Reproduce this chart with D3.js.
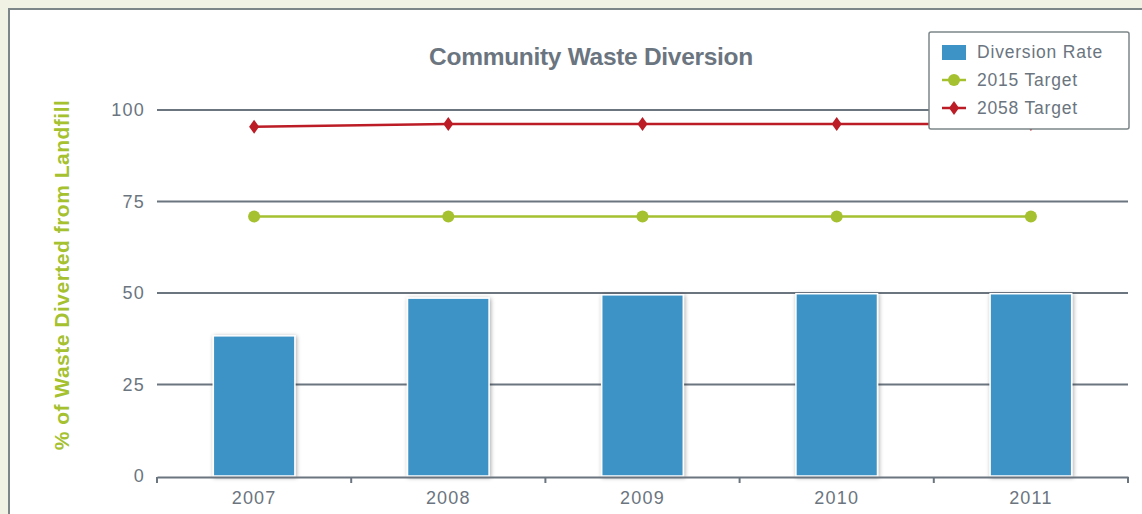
<!DOCTYPE html>
<html>
<head>
<meta charset="utf-8">
<script src="https://cdn.jsdelivr.net/npm/d3@7"></script>
<style>
  body { margin: 0; background: #f0f3e3; }
  svg { display: block; font-family: "Liberation Sans", Arial, sans-serif; }
</style>
</head>
<body>
<svg id="chart" width="1142" height="514"></svg>
<script>
// data
const years = ["2007", "2008", "2009", "2010", "2011"];
const diversionRate = [38.3, 48.6, 49.5, 49.8, 49.8];
const target2015 = [70.9, 70.9, 70.9, 70.9, 70.9];
const target2058 = [95.4, 96.2, 96.2, 96.2, 96.2];
const yTicks = [0, 25, 50, 75, 100];

const svg = d3.select("#chart");
const width = 1142, height = 514;

const grey = "#6b7580";
const blue = "#3d93c5";
const green = "#a5c130";
const red = "#bb1c25";

// white panel
svg.append("rect")
    .attr("x", 9).attr("y", 9)
    .attr("width", width).attr("height", height)
    .attr("fill", "#fff")
    .attr("stroke", "#7c8688")
    .attr("stroke-width", 2);

const margin = {left: 157, right: 14, top: 110, bottom: 38};
const x = d3.scaleBand()
    .domain(years)
    .range([margin.left, width - margin.right])
    .paddingInner(0.58)
    .paddingOuter(0.29);

const y = d3.scaleLinear()
    .domain([0, 100])
    .range([height - margin.bottom, margin.top]);

const defs = svg.append("defs");
const shadow = defs.append("filter").attr("id", "shadow")
    .attr("x", "-20%").attr("y", "-10%").attr("width", "140%").attr("height", "120%");
shadow.append("feDropShadow")
    .attr("dx", 1).attr("dy", 1).attr("stdDeviation", 2)
    .attr("flood-color", "#000").attr("flood-opacity", 0.35);

// grid lines
svg.append("g")
    .selectAll("line")
    .data(yTicks.filter(d => d > 0))
    .join("line")
    .attr("x1", margin.left).attr("x2", width - margin.right)
    .attr("y1", d => y(d)).attr("y2", d => y(d))
    .attr("stroke", grey).attr("stroke-width", 2);

// y labels
svg.append("g")
    .selectAll("text")
    .data(yTicks)
    .join("text")
    .attr("x", 145)
    .attr("y", d => y(d))
    .attr("dy", "0.35em")
    .attr("text-anchor", "end")
    .attr("fill", grey)
    .attr("font-size", 18)
    .attr("letter-spacing", 1.2)
    .text(d => d);

// bars
svg.append("g")
    .selectAll("rect")
    .data(diversionRate)
    .join("rect")
    .attr("x", (d, i) => x(years[i]))
    .attr("y", d => y(d))
    .attr("width", x.bandwidth())
    .attr("height", d => y(0) - y(d))
    .attr("fill", blue)
    .attr("stroke", "#fff")
    .attr("stroke-width", 1.5)
    .attr("filter", "url(#shadow)");

// x axis
const xAxis = svg.append("g")
    .attr("transform", `translate(0,${y(0) + 1})`)
    .call(d3.axisBottom(x).tickSize(0).tickPadding(14));
xAxis.select(".domain").attr("stroke", grey).attr("stroke-width", 2);
xAxis.selectAll("text").attr("fill", grey).attr("font-size", 18)
    .attr("letter-spacing", 1.2)
    .attr("font-family", "Liberation Sans, Arial, sans-serif");
// boundary ticks between categories
const step = x.step();
const bounds = d3.range(years.length + 1).map(i => margin.left + i * step);
xAxis.selectAll(".bound")
    .data(bounds)
    .join("line")
    .attr("class", "bound")
    .attr("x1", d => d).attr("x2", d => d)
    .attr("y1", 0).attr("y2", 6)
    .attr("stroke", grey).attr("stroke-width", 2);

// target lines
const cx = (d, i) => x(years[i]) + x.bandwidth() / 2;
const line = d3.line().x(cx).y(d => y(d));

svg.append("path")
    .datum(target2015)
    .attr("d", line)
    .attr("fill", "none")
    .attr("stroke", green).attr("stroke-width", 2.5);
svg.append("g")
    .selectAll("circle")
    .data(target2015)
    .join("circle")
    .attr("cx", cx).attr("cy", d => y(d))
    .attr("r", 6)
    .attr("fill", green);

const diamond = "M0,-7L5,0L0,7L-5,0Z";
svg.append("path")
    .datum(target2058)
    .attr("d", line)
    .attr("fill", "none")
    .attr("stroke", red).attr("stroke-width", 2.5);
svg.append("g")
    .selectAll("path")
    .data(target2058)
    .join("path")
    .attr("transform", (d, i) => `translate(${cx(d, i)},${y(d)})`)
    .attr("d", diamond)
    .attr("fill", red);

// title
svg.append("text")
    .attr("x", 591).attr("y", 65)
    .attr("text-anchor", "middle")
    .attr("fill", grey)
    .attr("font-size", 24.5)
    .attr("font-weight", "bold")
    .attr("letter-spacing", -0.3)
    .text("Community Waste Diversion");

// y axis title
svg.append("text")
    .attr("transform", "translate(69,275) rotate(-90)")
    .attr("text-anchor", "middle")
    .attr("fill", green)
    .attr("font-size", 21)
    .attr("font-weight", "bold")
    .attr("letter-spacing", 0.5)
    .text("% of Waste Diverted from Landfill");

// legend
const legend = svg.append("g").attr("transform", "translate(929,32)");
legend.append("rect")
    .attr("width", 200).attr("height", 97)
    .attr("rx", 2)
    .attr("fill", "#fff")
    .attr("stroke", "#7c8688").attr("stroke-width", 1.5);

const items = ["Diversion Rate", "2015 Target", "2058 Target"];
const li = legend.selectAll(".item")
    .data(items)
    .join("g")
    .attr("class", "item")
    .attr("transform", (d, i) => `translate(0,${20 + i * 28})`);

li.filter((d, i) => i === 0).append("rect")
    .attr("x", 13).attr("y", -7).attr("width", 24).attr("height", 15)
    .attr("fill", blue);
li.filter((d, i) => i === 1).each(function() {
  const g = d3.select(this);
  g.append("line").attr("x1", 13).attr("x2", 37).attr("stroke", green).attr("stroke-width", 2.5);
  g.append("circle").attr("cx", 25).attr("r", 6).attr("fill", green);
});
li.filter((d, i) => i === 2).each(function() {
  const g = d3.select(this);
  g.append("line").attr("x1", 13).attr("x2", 37).attr("stroke", red).attr("stroke-width", 2.5);
  g.append("path").attr("transform", "translate(25,0)").attr("d", diamond).attr("fill", red);
});
li.append("text")
    .attr("x", 48).attr("dy", "0.35em")
    .attr("fill", grey)
    .attr("font-size", 17.5)
    .attr("letter-spacing", 0.8)
    .text(d => d);
</script>
</body>
</html>
